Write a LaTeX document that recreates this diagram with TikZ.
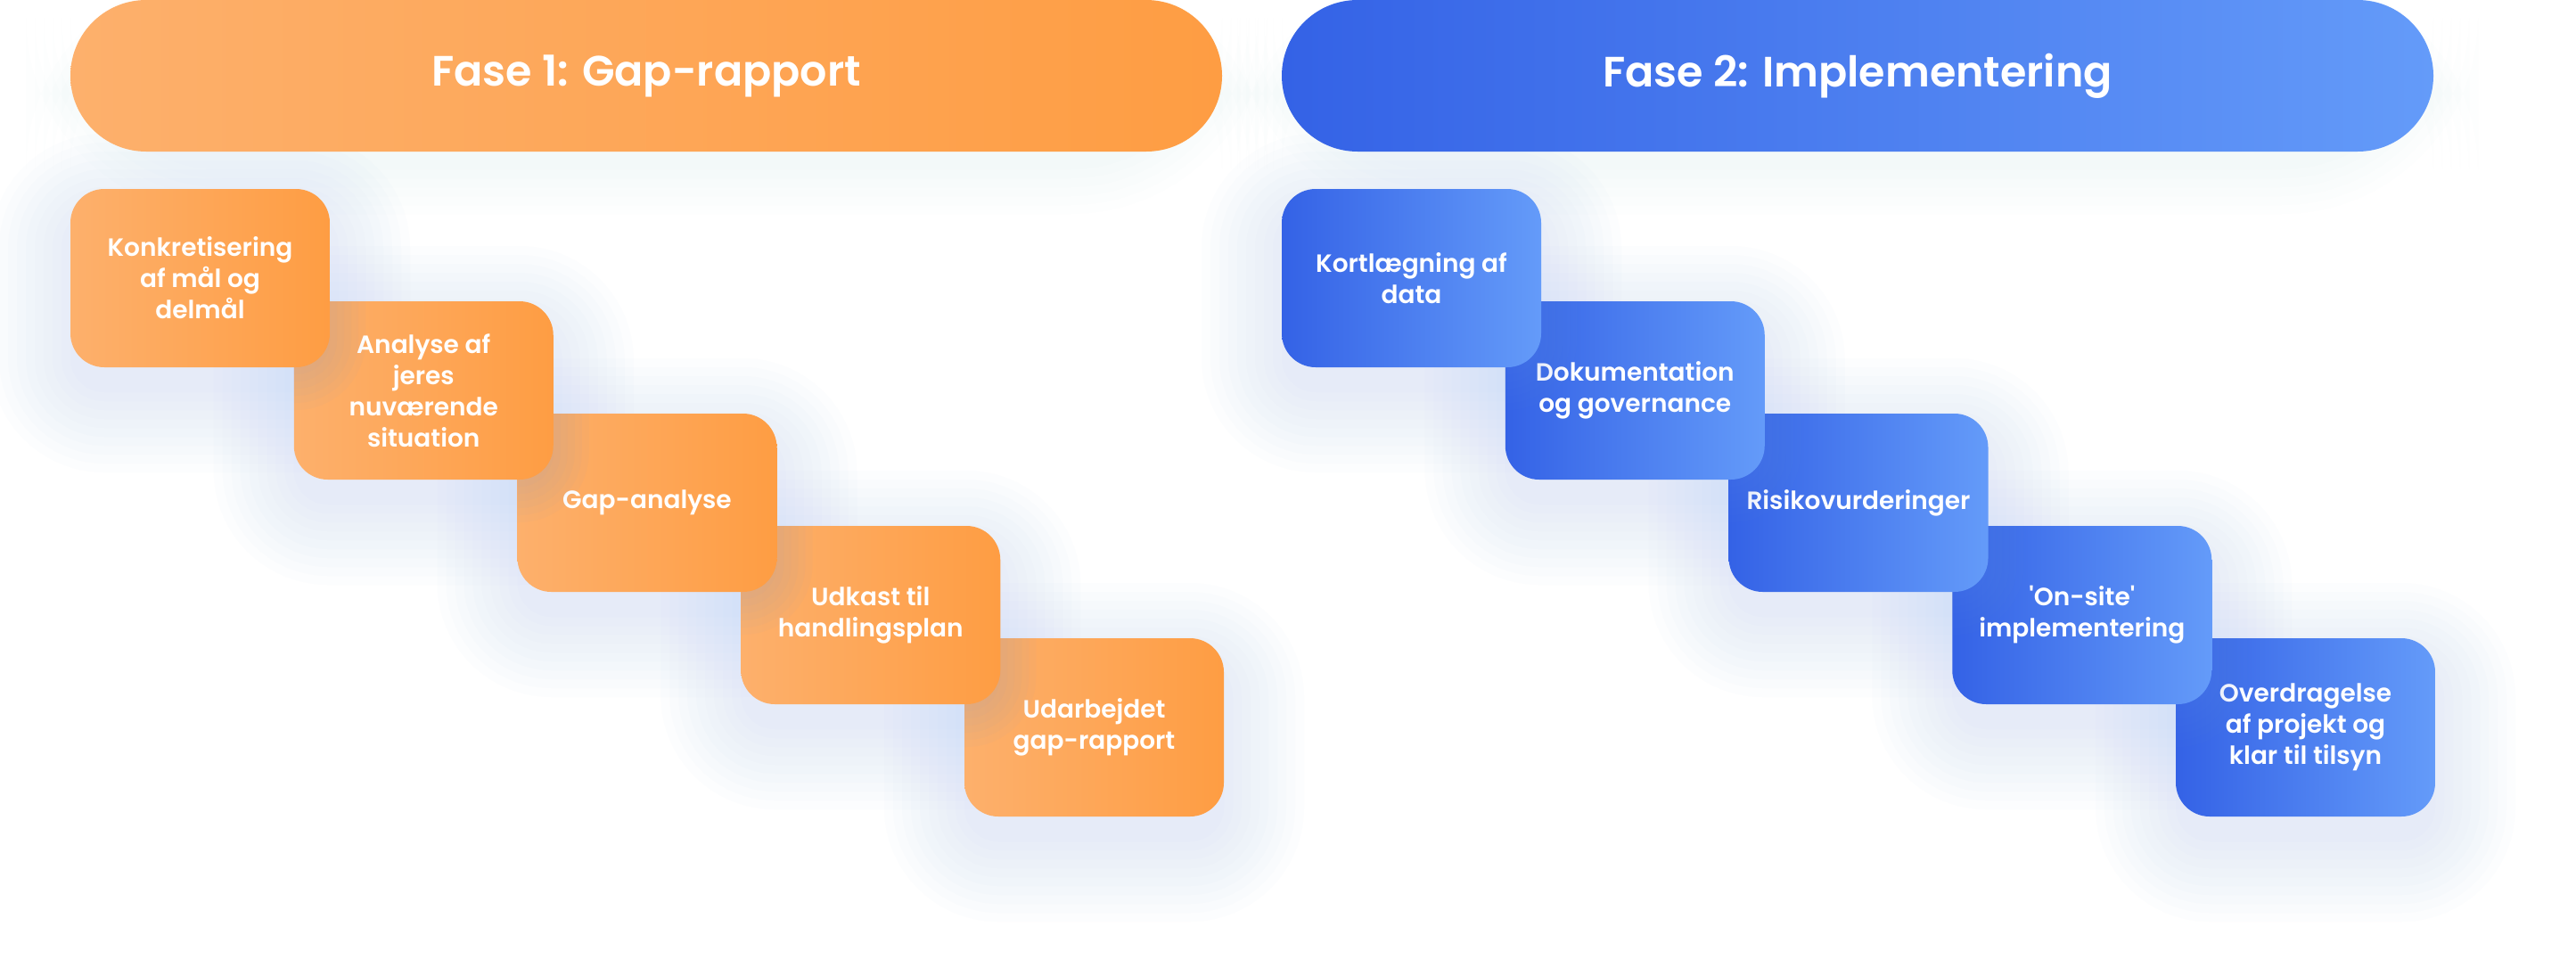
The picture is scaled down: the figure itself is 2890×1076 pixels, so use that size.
\documentclass[tikz,border=0pt]{standalone}
\usepackage{fontspec}
\newfontfamily\pop{Poppins}[UprightFont=* SemiBold, BoldFont=* Bold]
\definecolor{orL}{HTML}{FDB06C}
\definecolor{orR}{HTML}{FE9D43}
\definecolor{blL}{HTML}{3462E6}
\definecolor{blR}{HTML}{649BF9}
\definecolor{glowc}{HTML}{B8CEF8}
\definecolor{shadc}{HTML}{6F95E6}
\tikzset{
  hdr/.style={rounded corners=42.5pt, minimum width=646pt, minimum height=85pt, inner sep=0pt, text=white, font=\pop\fontsize{23.8pt}{28pt}\selectfont},
  stepbox/.style={rounded corners=19pt, minimum width=145.5pt, minimum height=100pt, inner sep=0pt, align=center, text=white, font=\pop\fontsize{14pt}{17.5pt}\selectfont},
  orfill/.style={left color=orL, right color=orR},
  blfill/.style={left color=blL, right color=blR},
}
% soft light-blue glow behind a step box centred at (#1,#2) (px)
\newcommand\glowbox[2]{%
  \foreach \e in {0,10,...,90}{%
    \pgfmathsetmacro\rr{(38+\e)*0.5}%
    \fill[glowc, fill opacity=0.035, rounded corners=\rr pt] ({#1-145.5-\e},{#2-100-\e+28}) rectangle ({#1+145.5+\e},{#2+100+\e+28});
  }}
% very faint glow under a header
\newcommand\glowhdr[2]{%
  \foreach \e in {0,10,...,50}{%
    \pgfmathsetmacro\rr{(170+\e)*0.5}%
    \fill[glowc, fill opacity=0.02, rounded corners=\rr pt] ({#1-646-\e},{#2-85-\e+20}) rectangle ({#1+646+\e},{#2+85+\e+20});
  }}
% contact shadow of box (#1,#2) falling on the box below it at (#3,#4)
\newcommand\contact[4]{%
  \begin{scope}
  \clip[rounded corners=19pt] ({#3-145.5},{#4-100}) rectangle ({#3+145.5},{#4+100});
  \foreach \e in {0,8,...,40}{%
    \pgfmathsetmacro\rr{(38+\e)*0.5}%
    \fill[shadc, fill opacity=0.03, rounded corners=\rr pt] ({#1-145.5-\e},{#2-100-\e+8}) rectangle ({#1+145.5+\e},{#2+100+\e+8});
  }
  \end{scope}}
\begin{document}
\begin{tikzpicture}[x=0.5pt,y=-0.5pt]
\fill[white] (0,0) rectangle (2890,1076);
\useasboundingbox (0,0) rectangle (2890,1076);
% background glows
\glowhdr{725}{85}
\glowhdr{2084}{85}
\foreach \cx/\cy in {224.5/312, 475.25/438, 726/564, 976.75/690, 1227.5/816,
                     1583.5/312, 1834.25/438, 2085/564, 2335.75/690, 2586.5/816}{
  \glowbox{\cx}{\cy}
}
% headers
\node[hdr, orfill] (h1) at (725,85) {Fase 1: Gap-rapport};
\node[hdr, blfill] (h2) at (2084,85) {Fase 2: Implementering};
% phase 1 steps (drawn last-to-first so earlier boxes lie on top)
\node[stepbox, orfill] (a5) at (1227.5,816) {Udarbejdet\\gap-rapport};
\contact{976.75}{690}{1227.5}{816}
\node[stepbox, orfill] (a4) at (976.75,690) {Udkast til\\handlingsplan};
\contact{726}{564}{976.75}{690}
\node[stepbox, orfill] (a3) at (726,564) {Gap-analyse};
\contact{475.25}{438}{726}{564}
\node[stepbox, orfill] (a2) at (475.25,438) {Analyse af\\jeres\\nuværende\\situation};
\contact{224.5}{312}{475.25}{438}
\node[stepbox, orfill] (a1) at (224.5,312) {Konkretisering\\af mål og\\delmål};
% phase 2 steps
\node[stepbox, blfill] (b5) at (2586.5,816) {Overdragelse\\af projekt og\\klar til tilsyn};
\contact{2335.75}{690}{2586.5}{816}
\node[stepbox, blfill] (b4) at (2335.75,690) {'On-site'\\implementering};
\contact{2085}{564}{2335.75}{690}
\node[stepbox, blfill] (b3) at (2085,564) {Risikovurderinger};
\contact{1834.25}{438}{2085}{564}
\node[stepbox, blfill] (b2) at (1834.25,438) {Dokumentation\\og governance};
\contact{1583.5}{312}{1834.25}{438}
\node[stepbox, blfill] (b1) at (1583.5,312) {Kortlægning af\\data};
\end{tikzpicture}
\end{document}
